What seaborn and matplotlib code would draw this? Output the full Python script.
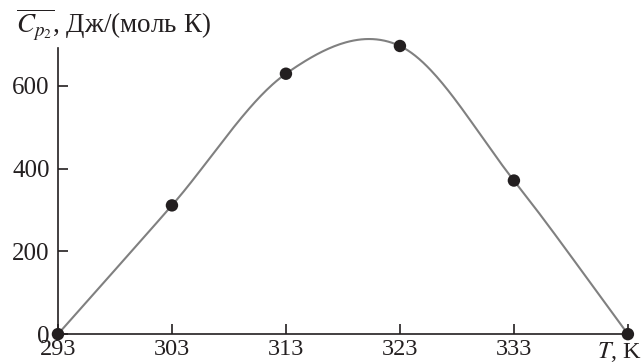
import numpy as np
import pandas as pd
import seaborn as sns
import matplotlib
matplotlib.use('Agg')
import matplotlib.pyplot as plt

# data
temps = [293, 303, 313, 323, 333, 343]
cp2 = [0, 311, 629, 696, 371, 0]
xtick_vals = [293, 303, 313, 323, 333, 343]
xtick_labels = ['293', '303', '313', '323', '333', '']
ytick_vals = [0, 200, 400, 600]


def smooth_curve(x, y, steps=60):
    # Catmull-Rom style hermite curve through the points
    x = np.asarray(x, float)
    y = np.asarray(y, float)
    m = np.gradient(y, x)
    xs, ys = [], []
    for i in range(len(x) - 1):
        h = x[i + 1] - x[i]
        s = np.linspace(0, 1, steps)
        h00 = 2 * s**3 - 3 * s**2 + 1
        h10 = s**3 - 2 * s**2 + s
        h01 = -2 * s**3 + 3 * s**2
        h11 = s**3 - s**2
        xs.append(x[i] + s * h)
        ys.append(h00 * y[i] + h10 * h * m[i] + h01 * y[i + 1] + h11 * h * m[i + 1])
    return np.concatenate(xs), np.concatenate(ys)


sns.set_style('ticks')
plt.rcParams['font.family'] = ['Liberation Serif', 'DejaVu Serif']
plt.rcParams['mathtext.fontset'] = 'stix'

points = pd.DataFrame({'T': temps, 'Cp': cp2})
cx, cy = smooth_curve(temps, cp2)
curve = pd.DataFrame({'T': cx, 'Cp': cy})

fig = plt.figure(figsize=(6.44, 3.64), dpi=100)
ax = fig.add_axes([0.090, 0.082, 0.885, 0.819])

sns.lineplot(data=curve, x='T', y='Cp', color='#808080', linewidth=1.5, ax=ax, sort=False)
sns.scatterplot(data=points, x='T', y='Cp', color='#231f20', s=80, edgecolor='none',
                ax=ax, clip_on=False, zorder=5)

ax.set_xlim(293, 343)
ax.set_ylim(0, 720)
ax.spines['top'].set_visible(False)
ax.spines['right'].set_visible(False)
ax.spines['left'].set_bounds(0, 690)
for s in ['left', 'bottom']:
    ax.spines[s].set_linewidth(1.2)
    ax.spines[s].set_color('#231f20')

ax.set_xticks(xtick_vals)
ax.set_xticklabels(xtick_labels)
ax.set_yticks(ytick_vals)
ax.tick_params(axis='both', direction='in', length=7, width=1.2, color='#231f20',
               labelsize=18, labelcolor='#231f20')
ax.tick_params(axis='x', pad=3.5, labelsize=17.5)
ax.tick_params(axis='y', pad=6)
ax.set_xlabel('')
ax.set_ylabel('')

# axis name sits in place of the last x tick label
ax.annotate('$T$, K', xy=(343, 0), xycoords=('data', 'axes fraction'),
            xytext=(-8, -6), textcoords='offset pixels', ha='center', va='top',
            fontsize=17.5, color='#231f20', annotation_clip=False)

fig.text(16 / 644, 1 - 33 / 364, r'$\overline{C_{p_2}}$, Дж/(моль К)', fontsize=19.5,
         color='#231f20', ha='left', va='baseline')

fig.savefig('out.png', dpi=100)
